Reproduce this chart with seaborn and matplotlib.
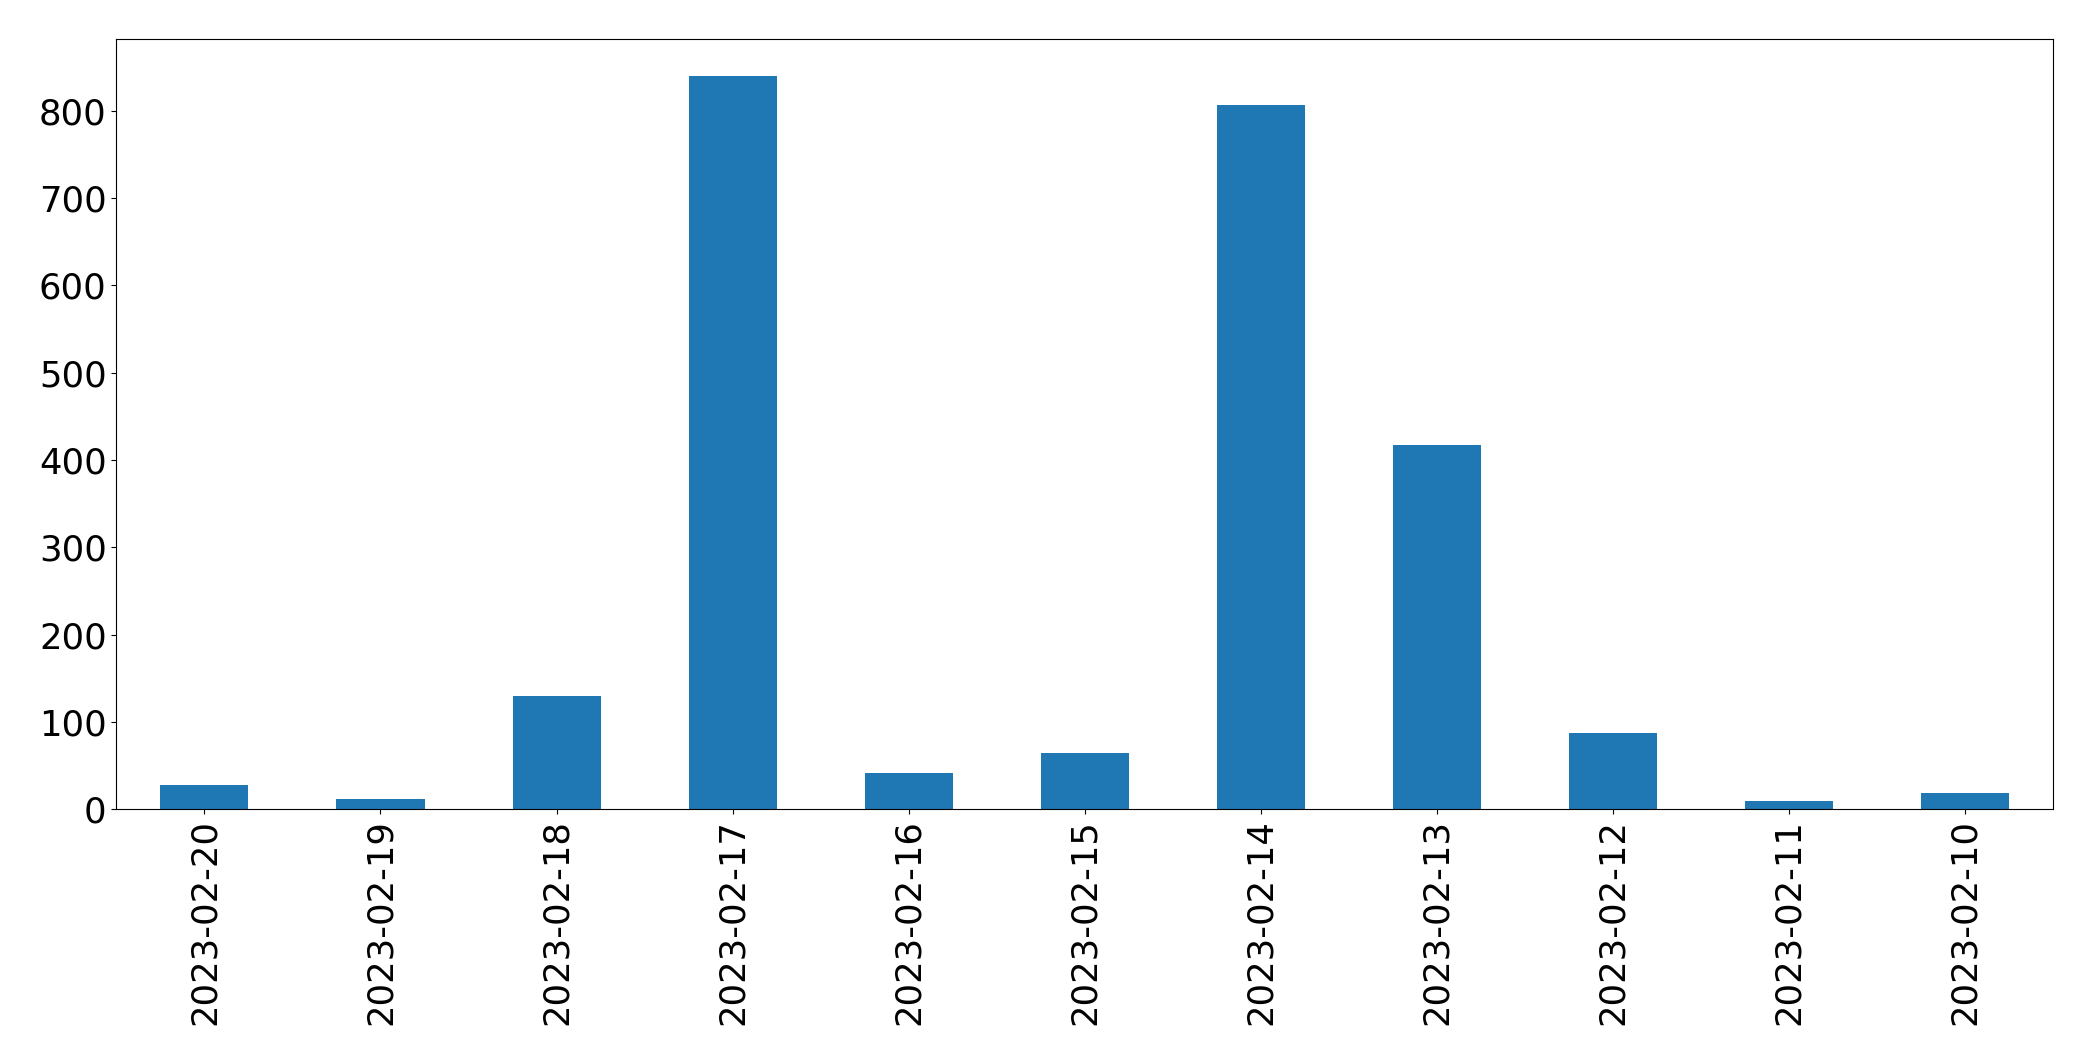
import matplotlib
matplotlib.use("Agg")
import matplotlib.pyplot as plt
import seaborn as sns
import pandas as pd

dates = ["2023-02-20", "2023-02-19", "2023-02-18", "2023-02-17", "2023-02-16",
         "2023-02-15", "2023-02-14", "2023-02-13", "2023-02-12", "2023-02-11",
         "2023-02-10"]
counts = [28, 12, 130, 840, 42, 64, 806, 417, 87, 9, 19]

df = pd.DataFrame({"date": dates, "count": counts})

fig = plt.figure(figsize=(20.93, 10.61), dpi=100)
ax = fig.add_axes([0.0556, 0.2372, 0.9254, 0.726])

sns.barplot(x="date", y="count", data=df, order=dates, color="#1f77b4",
            saturation=1, width=0.5, ax=ax)

ax.set_xlim(-0.5, len(dates) - 0.5)
ax.set_ylim(0, max(counts) * 1.05)
ax.set_xlabel("")
ax.set_ylabel("")
ax.tick_params(axis="both", labelsize=25.5)
ax.tick_params(axis="x", labelrotation=90)

fig.savefig("out.png", dpi=100)
